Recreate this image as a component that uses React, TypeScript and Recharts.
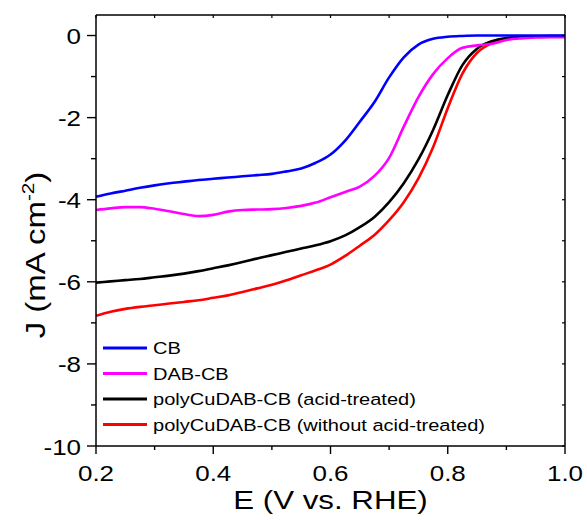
import { LineChart, Line, XAxis, YAxis, Legend, Label } from "recharts";

// potential (V vs. RHE)
const potential = [
  0.2, 0.225, 0.25, 0.275, 0.3, 0.325, 0.35, 0.375, 0.4, 0.425, 0.45, 0.475, 0.5, 0.525, 0.55, 0.575, 0.6,
  0.625, 0.65, 0.675, 0.7, 0.725, 0.75, 0.775, 0.8, 0.825, 0.85, 0.875, 0.9, 0.925, 0.95, 0.975, 1.0,
];

// current density (mA cm-2)
const cb = [
  -3.93, -3.85, -3.78, -3.71, -3.65, -3.6, -3.56, -3.52, -3.49, -3.46, -3.43, -3.4, -3.37, -3.31, -3.24, -3.1, -2.9,
  -2.56, -2.1, -1.62, -1.02, -0.53, -0.22, -0.08, -0.03, -0.01, 0, 0, 0, 0, 0, 0, 0,
];
const dabCb = [
  -4.25, -4.21, -4.18, -4.18, -4.22, -4.28, -4.35, -4.4, -4.37, -4.29, -4.25, -4.24, -4.23, -4.2, -4.15, -4.07, -3.94,
  -3.81, -3.68, -3.42, -2.98, -2.22, -1.5, -0.94, -0.55, -0.3, -0.24, -0.2, -0.11, -0.07, -0.05, -0.04, -0.04,
];
const polyAcid = [
  -6.02, -5.99, -5.96, -5.93, -5.89, -5.85, -5.8, -5.74, -5.67, -5.6, -5.52, -5.43, -5.35, -5.27, -5.19, -5.11, -5.01,
  -4.87, -4.67, -4.42, -4.06, -3.6, -3.02, -2.3, -1.45, -0.72, -0.32, -0.14, -0.06, -0.03, -0.02, -0.01, -0.01,
];
const polyNoAcid = [
  -6.83, -6.73, -6.66, -6.61, -6.57, -6.53, -6.49, -6.45, -6.39, -6.33, -6.25, -6.16, -6.07, -5.96, -5.84, -5.72, -5.58,
  -5.37, -5.12, -4.86, -4.5, -4.06, -3.48, -2.72, -1.77, -0.93, -0.42, -0.19, -0.09, -0.05, -0.03, -0.02, -0.02,
];

const xTicks = [0.2, 0.3, 0.4, 0.5, 0.6, 0.7, 0.8, 0.9, 1.0];
const yTicks = [-10, -9, -8, -7, -6, -5, -4, -3, -2, -1, 0];

const data = potential.map((e, i) => ({
  e,
  cb: cb[i],
  dab: dabCb[i],
  acid: polyAcid[i],
  noAcid: polyNoAcid[i],
}));

const series = [
  { key: "cb", name: "CB", color: "#0000ff" },
  { key: "dab", name: "DAB-CB", color: "#ff00ff" },
  { key: "acid", name: "polyCuDAB-CB (acid-treated)", color: "#000000" },
  { key: "noAcid", name: "polyCuDAB-CB (without acid-treated)", color: "#ff0000" },
];

const FONT = "Arial, 'Liberation Sans', sans-serif";
const SX = 1.18; // the original lettering runs wide

const BottomTick = ({ x, y, payload }: any) => {
  const v = payload.value;
  const major = Math.round(v * 10) % 2 === 0;
  return (
    <g>
      <line x1={x} x2={x} y1={y} y2={y + (major ? 8 : 4)} stroke="#000" strokeWidth={1.4} />
      {major && (
        <text transform={`translate(${x},${y + 35}) scale(${SX},1)`} textAnchor="middle" fontSize={22} fontFamily={FONT} fill="#000">
          {v.toFixed(1)}
        </text>
      )}
    </g>
  );
};

const LeftTick = ({ x, y, payload }: any) => {
  const v = payload.value;
  const major = v % 2 === 0;
  return (
    <g>
      <line x1={x} x2={x - (major ? 9 : 5)} y1={y} y2={y} stroke="#000" strokeWidth={1.4} />
      {major && (
        <text transform={`translate(${x - 15},${y + 8.5}) scale(${SX},1)`} textAnchor="end" fontSize={22} fontFamily={FONT} fill="#000">
          {String(v)}
        </text>
      )}
    </g>
  );
};

const TopTick = ({ x, y }: any) => <line x1={x} x2={x} y1={y} y2={y + 3} stroke="#000" strokeWidth={1.2} />;
const RightTick = ({ x, y }: any) => <line x1={x} x2={x - 3} y1={y} y2={y} stroke="#000" strokeWidth={1.2} />;

const LegendBox = () => (
  <svg width={420} height={110} style={{ display: "block" }}>
    {series.map((s, i) => {
      const y = 13 + i * 25.5;
      return (
        <g key={s.key}>
          <line x1={3} x2={47} y1={y} y2={y} stroke={s.color} strokeWidth={3} />
          <text transform={`translate(53,${y + 6}) scale(${SX},1)`} fontSize={17} fontFamily={FONT} fill="#000">
            {s.name}
          </text>
        </g>
      );
    })}
  </svg>
);

const drawOrder = ["noAcid", "acid", "dab", "cb"];

export default function App() {
  return (
    <div style={{ position: "absolute", left: 0, top: 0, background: "#fff" }}>
      <LineChart width={587} height={520} data={data} margin={{ top: 14, right: 21, bottom: 0, left: 0 }}>
        <XAxis
          dataKey="e"
          type="number"
          domain={[0.2, 1.0]}
          ticks={xTicks}
          height={74}
          tickSize={0}
          tickMargin={0}
          tick={<BottomTick />}
          axisLine={{ stroke: "#000", strokeWidth: 1.5 }}
          interval={0}
        >
          <Label
            content={({ viewBox }: any) => (
              <text
                transform={`translate(${viewBox.x + viewBox.width / 2},${viewBox.y + 62.5}) scale(${SX},1)`}
                textAnchor="middle"
                fontSize={26.5}
                fontFamily={FONT}
                fill="#000"
              >
                E (V vs. RHE)
              </text>
            )}
          />
        </XAxis>
        <XAxis
          xAxisId="top"
          orientation="top"
          dataKey="e"
          type="number"
          domain={[0.2, 1.0]}
          ticks={xTicks}
          height={1}
          tickSize={0}
          tickMargin={0}
          tick={<TopTick />}
          axisLine={{ stroke: "#000", strokeWidth: 1.5 }}
          interval={0}
        />
        <YAxis
          type="number"
          domain={[-10, 0.5]}
          ticks={yTicks}
          width={96}
          tickSize={0}
          tickMargin={0}
          tick={<LeftTick />}
          axisLine={{ stroke: "#000", strokeWidth: 1.5 }}
          interval={0}
        >
          <Label
            content={({ viewBox }: any) => (
              <text
                transform={`translate(${viewBox.x + 45},${viewBox.y + 240}) rotate(-90) scale(1.22,1)`}
                textAnchor="middle"
                fontSize={27}
                fontFamily={FONT}
                fill="#000"
              >
                J (mA cm
                <tspan fontSize={17} dy={-11}>-2</tspan>
                <tspan dy={11}>)</tspan>
              </text>
            )}
          />
        </YAxis>
        <YAxis
          yAxisId="right"
          orientation="right"
          type="number"
          domain={[-10, 0.5]}
          ticks={yTicks}
          width={1}
          tickSize={0}
          tickMargin={0}
          tick={<RightTick />}
          axisLine={{ stroke: "#000", strokeWidth: 1.5 }}
          interval={0}
        />
        <Legend
          layout="vertical"
          align="center"
          verticalAlign="middle"
          wrapperStyle={{ left: 100, top: 335, width: 420 }}
          content={() => <LegendBox />}
        />
        {/* invisible copy so the frame axes (top/right) get drawn */}
        <Line
          xAxisId="top"
          yAxisId="right"
          dataKey="cb"
          stroke="transparent"
          dot={false}
          activeDot={false}
          legendType="none"
          isAnimationActive={false}
        />
        {drawOrder.map((k) => {
          const s = series.find((d) => d.key === k)!;
          return (
            <Line
              key={k}
              dataKey={k}
              name={s.name}
              type="monotone"
              stroke={s.color}
              strokeWidth={2.6}
              dot={false}
              isAnimationActive={false}
            />
          );
        })}
      </LineChart>
    </div>
  );
}
